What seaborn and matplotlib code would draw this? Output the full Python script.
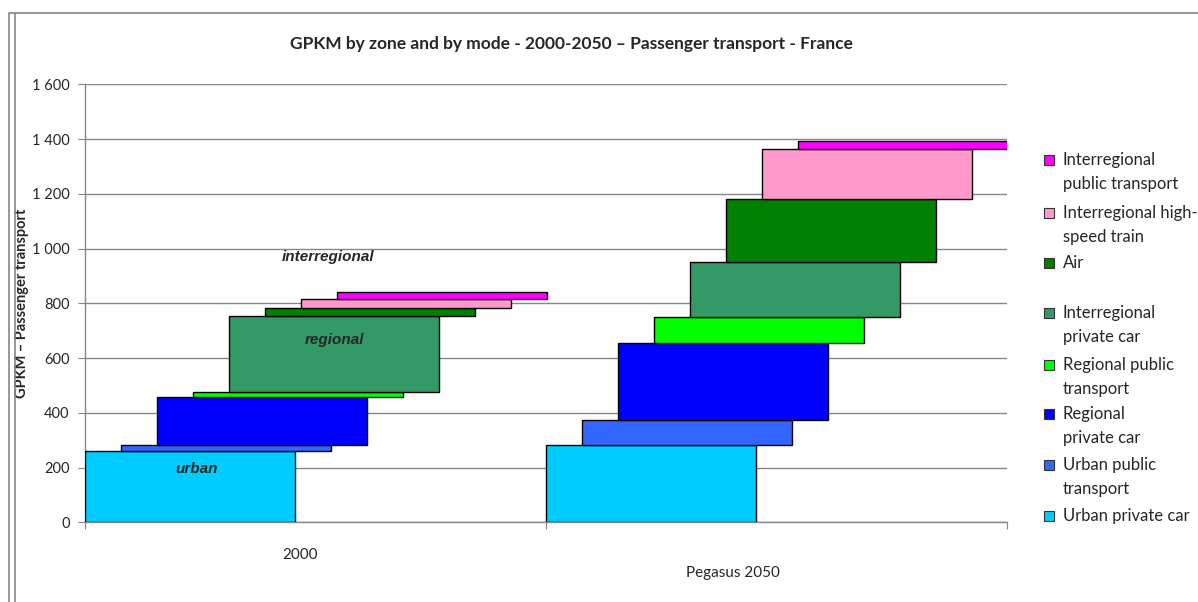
import numpy as np
import pandas as pd
import seaborn as sns
import matplotlib.pyplot as plt
from matplotlib.patches import Rectangle
from matplotlib.lines import Line2D

# GPKM by mode, stacked from bottom to top
MODES = ['Urban private car', 'Urban public transport', 'Regional private car',
         'Regional public transport', 'Interregional private car', 'Air',
         'Interregional high-speed train', 'Interregional public transport']
LEGEND_LABELS = ['Urban private car', 'Urban public\ntransport', 'Regional\nprivate car',
                 'Regional public\ntransport', 'Interregional\nprivate car', 'Air',
                 'Interregional high-\nspeed train', 'Interregional\npublic transport']
COLORS = ['#00CCFF', '#3366FF', '#0000FF', '#00FF00', '#339966', '#008000',
          '#FF99CC', '#FF00FF']
SCENARIOS = ['2000', 'Pegasus 2050']
GPKM_2000 = [261, 22, 173, 19, 280, 26, 36, 24]
GPKM_2050 = [281, 94, 281, 94, 200, 230, 182, 32]

sns.set_theme(style='white')
plt.rcParams['font.family'] = ['Lato', 'DejaVu Sans']

fig = plt.figure(figsize=(11.98, 6.02), dpi=100)
ax = fig.add_axes([0.0710, 0.1324, 0.7696, 0.7276])

vals = np.array([GPKM_2000, GPKM_2050])
bottoms = np.cumsum(vals, axis=1) - vals
bar_w = 210 / 461
step = 36 / 461

for k, mode in enumerate(MODES):
    df = pd.DataFrame({'x': np.arange(len(SCENARIOS)) + k * step + bar_w / 2,
                       'gpkm': vals[:, k]})
    sns.barplot(data=df, x='x', y='gpkm', native_scale=True, width=bar_w,
                color=COLORS[k], saturation=1, edgecolor='black', linewidth=1,
                bottom=bottoms[:, k], ax=ax, errorbar=None, zorder=3)

ax.set_xlim(0, 2)
ax.set_ylim(0, 1600)
ax.set_yticks(range(0, 1601, 200))
ax.set_yticklabels(['{:,}'.format(v).replace(',', ' ') for v in range(0, 1601, 200)],
                   fontsize=10.5)
ax.set_xticks([0, 1, 2])
ax.set_xticklabels([])
ax.tick_params(axis='both', which='both', direction='out', length=5, width=0.8,
               color='#868686', left=True, bottom=True, pad=6)
ax.yaxis.grid(True, color='#868686', linewidth=1)
ax.set_axisbelow(True)
for s in ['top', 'right']:
    ax.spines[s].set_visible(False)
for s in ['left', 'bottom']:
    ax.spines[s].set_color('#868686')
    ax.spines[s].set_linewidth(1)
ax.set_xlabel('')
ax.set_ylabel('GPKM – Passenger transport', fontsize=10.5, fontweight='bold', labelpad=2)

# category labels, staggered like the original
ax.text(0.466, -0.075, SCENARIOS[0], transform=ax.get_xaxis_transform(),
        ha='center', va='center', fontsize=11)
ax.text(1.406, -0.115, SCENARIOS[1], transform=ax.get_xaxis_transform(),
        ha='center', va='center', fontsize=11)

# zone annotations
ax.text(0.527, 970, 'interregional', ha='center', va='center', fontsize=11,
        fontweight='bold', fontstyle='italic', family='Liberation Sans', zorder=5)
ax.text(0.542, 665, 'regional', ha='center', va='center', fontsize=11,
        fontweight='bold', fontstyle='italic', family='Liberation Sans', zorder=5)
ax.text(0.241, 195, 'urban', ha='center', va='center', fontsize=11,
        fontweight='bold', fontstyle='italic', family='Liberation Sans', zorder=5)

fig.text(571 / 1198, 1 - 44 / 602, 'GPKM by zone and by mode - 2000-2050 – Passenger transport - France',
         ha='center', va='center', fontsize=12.5, fontweight='bold')

# legend drawn by hand so the swatch sits on the first text line
W, H = 1198, 602
legend_y = [160, 213, 263, 313, 365, 414, 465, 516]
for k in reversed(range(len(MODES))):
    y = legend_y[len(MODES) - 1 - k]
    fig.patches.append(Rectangle((1044 / W, 1 - (y + 5) / H), 10 / W, 10 / H,
                                 transform=fig.transFigure, facecolor=COLORS[k],
                                 edgecolor='#333333', linewidth=0.8))
    fig.text(1063 / W, 1 - (y - 8) / H, LEGEND_LABELS[k], ha='left', va='top',
             fontsize=12, linespacing=1.62)

# chart frame
fig.lines.append(Line2D([9 / W, 9 / W, 1], [0, 1 - 13 / H, 1 - 13 / H],
                        transform=fig.transFigure, color='#868686', linewidth=1.2))
fig.lines.append(Line2D([15 / W, 15 / W], [0, 1 - 13 / H],
                        transform=fig.transFigure, color='#868686', linewidth=1.2))

fig.savefig('out.png', dpi=100, facecolor='white')
